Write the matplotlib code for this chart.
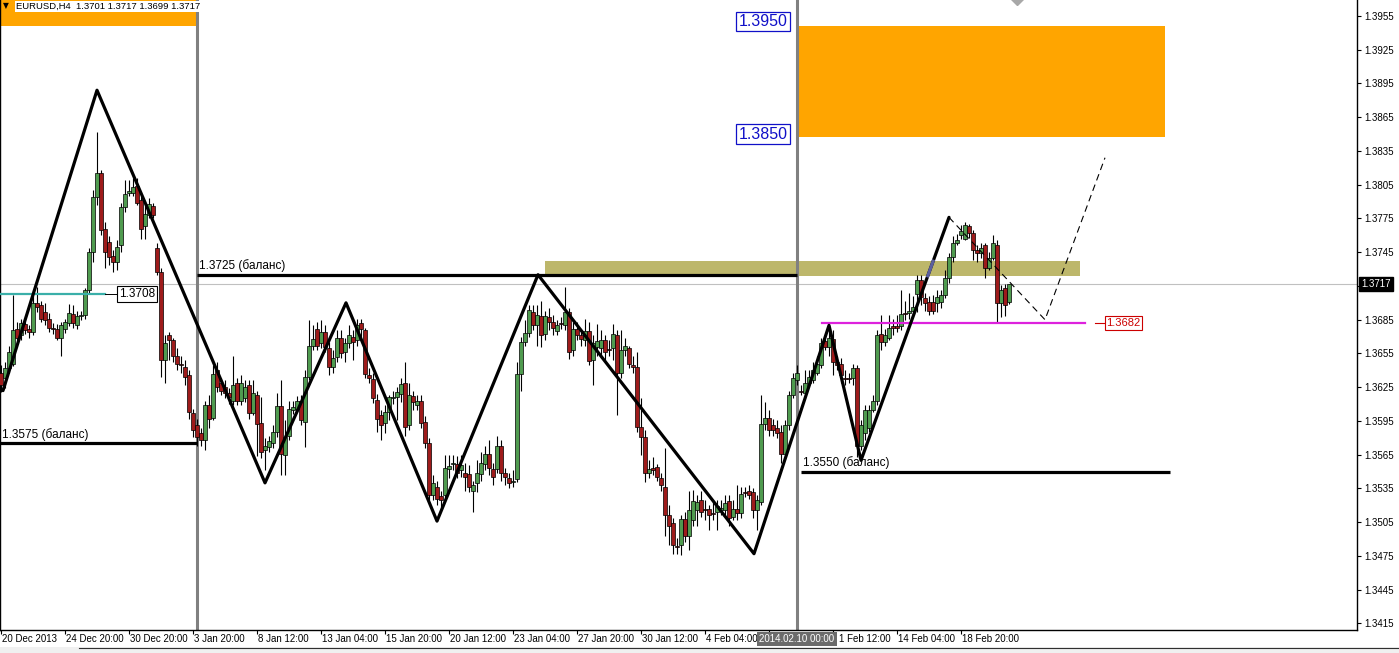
import matplotlib.pyplot as plt
import numpy as np
from matplotlib.patches import Rectangle
from matplotlib.lines import Line2D
from matplotlib.ticker import FuncFormatter

plt.rcParams['font.family'] = ['Liberation Sans', 'DejaVu Sans']

# EURUSD H4 candles, bar 0 = 20 Dec 2013 00:00
opens = [
    1.3638, 1.3633, 1.3642, 1.3646, 1.3677, 1.3671, 1.3681, 1.3677, 1.3674, 1.3700,
    1.3698, 1.3692, 1.3686, 1.3678, 1.3677, 1.3669, 1.3677, 1.3682, 1.3690, 1.3680,
    1.3688, 1.3689, 1.3711, 1.3745, 1.3794, 1.3815, 1.3766, 1.3754, 1.3742, 1.3736,
    1.3751, 1.3785, 1.3798, 1.3798, 1.3804, 1.3791, 1.3768, 1.3778, 1.3786, 1.3749,
    1.3727, 1.3649, 1.3671, 1.3667, 1.3653, 1.3646, 1.3643, 1.3636, 1.3602, 1.3591,
    1.3584, 1.3578, 1.3609, 1.3598, 1.3640, 1.3629, 1.3625, 1.3620, 1.3613, 1.3629,
    1.3613, 1.3615, 1.3627, 1.3602, 1.3618, 1.3593, 1.3569, 1.3572, 1.3575, 1.3585,
    1.3608, 1.3565, 1.3582, 1.3605, 1.3606, 1.3613, 1.3594, 1.3634, 1.3662, 1.3677,
    1.3664, 1.3674, 1.3660, 1.3643, 1.3652, 1.3669, 1.3656, 1.3664, 1.3670, 1.3667,
    1.3682, 1.3676, 1.3636, 1.3632, 1.3614, 1.3600, 1.3593, 1.3603, 1.3615, 1.3616,
    1.3619, 1.3629, 1.3591, 1.3617, 1.3609, 1.3613, 1.3594, 1.3575, 1.3529, 1.3536,
    1.3528, 1.3529, 1.3552, 1.3557, 1.3557, 1.3551, 1.3549, 1.3548, 1.3533, 1.3540,
    1.3548, 1.3557, 1.3566, 1.3552, 1.3552, 1.3573, 1.3549, 1.3544, 1.3541, 1.3543,
    1.3637, 1.3665, 1.3673, 1.3692, 1.3680, 1.3688, 1.3672, 1.3687, 1.3683, 1.3675,
    1.3682, 1.3680, 1.3692, 1.3658, 1.3677, 1.3671, 1.3667, 1.3675, 1.3649, 1.3661,
    1.3660, 1.3667, 1.3659, 1.3660, 1.3671, 1.3638, 1.3658, 1.3660, 1.3645, 1.3643,
    1.3590, 1.3581, 1.3549, 1.3553, 1.3554, 1.3544, 1.3536, 1.3511, 1.3504, 1.3484,
    1.3485, 1.3508, 1.3493, 1.3507, 1.3516, 1.3525, 1.3517, 1.3517, 1.3513, 1.3514,
    1.3516, 1.3516, 1.3524, 1.3510, 1.3517, 1.3513, 1.3532, 1.3533, 1.3532, 1.3516,
    1.3523, 1.3592, 1.3598, 1.3591, 1.3589, 1.3585, 1.3566, 1.3591, 1.3618, 1.3631,
    1.3622, 1.3620, 1.3629, 1.3631, 1.3638, 1.3645, 1.3666, 1.3661, 1.3668, 1.3647,
    1.3646, 1.3633, 1.3633, 1.3633, 1.3642, 1.3573, 1.3584, 1.3589, 1.3605, 1.3613,
    1.3672, 1.3665, 1.3669, 1.3679, 1.3679, 1.3679, 1.3691, 1.3691, 1.3693, 1.3708,
    1.3720, 1.3704, 1.3701, 1.3701, 1.3700, 1.3701, 1.3707, 1.3722, 1.3741, 1.3753,
    1.3760, 1.3757, 1.3768, 1.3762, 1.3747, 1.3744, 1.3751, 1.3731, 1.3740, 1.3751,
    1.3700, 1.3713, 1.3701,
]
highs = [
    1.3645, 1.3647, 1.3662, 1.3707, 1.3683, 1.3686, 1.3686, 1.3680, 1.3711, 1.3714,
    1.3702, 1.3700, 1.3691, 1.3682, 1.3681, 1.3683, 1.3686, 1.3699, 1.3698, 1.3693,
    1.3693, 1.3713, 1.3749, 1.3800, 1.3852, 1.3818, 1.3772, 1.3759, 1.3747, 1.3756,
    1.3789, 1.3809, 1.3809, 1.3811, 1.3811, 1.3796, 1.3787, 1.3793, 1.3789, 1.3753,
    1.3731, 1.3671, 1.3674, 1.3669, 1.3660, 1.3653, 1.3649, 1.3640, 1.3606, 1.3597,
    1.3589, 1.3613, 1.3618, 1.3645, 1.3647, 1.3633, 1.3631, 1.3624, 1.3653, 1.3633,
    1.3636, 1.3631, 1.3631, 1.3631, 1.3622, 1.3616, 1.3580, 1.3582, 1.3591, 1.3620,
    1.3631, 1.3596, 1.3613, 1.3613, 1.3617, 1.3618, 1.3640, 1.3685, 1.3680, 1.3683,
    1.3685, 1.3680, 1.3665, 1.3658, 1.3676, 1.3676, 1.3669, 1.3680, 1.3676, 1.3686,
    1.3686, 1.3678, 1.3642, 1.3638, 1.3619, 1.3605, 1.3609, 1.3618, 1.3622, 1.3625,
    1.3633, 1.3647, 1.3629, 1.3622, 1.3618, 1.3618, 1.3599, 1.3580, 1.3547, 1.3542,
    1.3533, 1.3565, 1.3565, 1.3565, 1.3564, 1.3565, 1.3558, 1.3556, 1.3542, 1.3560,
    1.3567, 1.3573, 1.3578, 1.3558, 1.3582, 1.3578, 1.3553, 1.3549, 1.3551, 1.3647,
    1.3670, 1.3685, 1.3698, 1.3698, 1.3698, 1.3702, 1.3693, 1.3695, 1.3689, 1.3685,
    1.3687, 1.3714, 1.3695, 1.3683, 1.3683, 1.3676, 1.3686, 1.3683, 1.3671, 1.3681,
    1.3676, 1.3671, 1.3667, 1.3681, 1.3676, 1.3676, 1.3669, 1.3662, 1.3653, 1.3656,
    1.3615, 1.3587, 1.3560, 1.3563, 1.3557, 1.3549, 1.3571, 1.3520, 1.3509, 1.3491,
    1.3511, 1.3514, 1.3533, 1.3534, 1.3529, 1.3533, 1.3525, 1.3520, 1.3525, 1.3525,
    1.3525, 1.3529, 1.3529, 1.3525, 1.3538, 1.3536, 1.3536, 1.3538, 1.3535, 1.3529,
    1.3618, 1.3612, 1.3605, 1.3597, 1.3596, 1.3591, 1.3596, 1.3622, 1.3638, 1.3645,
    1.3627, 1.3640, 1.3640, 1.3647, 1.3653, 1.3669, 1.3671, 1.3680, 1.3676, 1.3653,
    1.3651, 1.3640, 1.3638, 1.3646, 1.3645, 1.3596, 1.3609, 1.3609, 1.3618, 1.3676,
    1.3689, 1.3677, 1.3689, 1.3686, 1.3689, 1.3711, 1.3702, 1.3709, 1.3706, 1.3725,
    1.3725, 1.3709, 1.3706, 1.3707, 1.3711, 1.3711, 1.3729, 1.3744, 1.3759, 1.3761,
    1.3769, 1.3772, 1.3770, 1.3765, 1.3751, 1.3753, 1.3753, 1.3745, 1.3760, 1.3756,
    1.3716, 1.3717, 1.3717,
]
lows = [
    1.3621, 1.3624, 1.3638, 1.3644, 1.3665, 1.3667, 1.3672, 1.3669, 1.3671, 1.3692,
    1.3683, 1.3680, 1.3674, 1.3672, 1.3667, 1.3653, 1.3673, 1.3679, 1.3678, 1.3677,
    1.3685, 1.3686, 1.3709, 1.3736, 1.3787, 1.3760, 1.3731, 1.3734, 1.3727, 1.3729,
    1.3745, 1.3781, 1.3795, 1.3795, 1.3787, 1.3757, 1.3757, 1.3775, 1.3775, 1.3725,
    1.3634, 1.3629, 1.3649, 1.3647, 1.3640, 1.3638, 1.3627, 1.3597, 1.3581, 1.3573,
    1.3573, 1.3569, 1.3589, 1.3596, 1.3621, 1.3618, 1.3615, 1.3610, 1.3609, 1.3609,
    1.3609, 1.3612, 1.3597, 1.3600, 1.3564, 1.3562, 1.3551, 1.3567, 1.3571, 1.3581,
    1.3547, 1.3547, 1.3578, 1.3601, 1.3603, 1.3591, 1.3572, 1.3631, 1.3658, 1.3658,
    1.3660, 1.3656, 1.3636, 1.3638, 1.3647, 1.3651, 1.3647, 1.3660, 1.3649, 1.3662,
    1.3667, 1.3633, 1.3629, 1.3611, 1.3585, 1.3578, 1.3584, 1.3596, 1.3610, 1.3596,
    1.3612, 1.3582, 1.3587, 1.3605, 1.3605, 1.3589, 1.3571, 1.3525, 1.3525, 1.3520,
    1.3516, 1.3525, 1.3544, 1.3551, 1.3544, 1.3545, 1.3533, 1.3532, 1.3514, 1.3532,
    1.3542, 1.3551, 1.3547, 1.3538, 1.3549, 1.3542, 1.3538, 1.3535, 1.3536, 1.3541,
    1.3622, 1.3662, 1.3670, 1.3676, 1.3662, 1.3661, 1.3667, 1.3676, 1.3671, 1.3671,
    1.3677, 1.3676, 1.3650, 1.3653, 1.3667, 1.3662, 1.3662, 1.3645, 1.3627, 1.3653,
    1.3651, 1.3647, 1.3653, 1.3649, 1.3600, 1.3633, 1.3653, 1.3642, 1.3638, 1.3585,
    1.3565, 1.3541, 1.3544, 1.3547, 1.3542, 1.3533, 1.3493, 1.3485, 1.3477, 1.3477,
    1.3476, 1.3487, 1.3480, 1.3502, 1.3502, 1.3510, 1.3507, 1.3498, 1.3507, 1.3498,
    1.3511, 1.3511, 1.3502, 1.3507, 1.3507, 1.3509, 1.3527, 1.3526, 1.3509, 1.3498,
    1.3520, 1.3587, 1.3582, 1.3582, 1.3580, 1.3558, 1.3562, 1.3587, 1.3615, 1.3627,
    1.3618, 1.3615, 1.3627, 1.3629, 1.3636, 1.3642, 1.3658, 1.3653, 1.3636, 1.3640,
    1.3629, 1.3627, 1.3629, 1.3627, 1.3563, 1.3569, 1.3578, 1.3585, 1.3603, 1.3609,
    1.3658, 1.3662, 1.3667, 1.3671, 1.3674, 1.3676, 1.3685, 1.3686, 1.3689, 1.3692,
    1.3698, 1.3693, 1.3689, 1.3690, 1.3692, 1.3695, 1.3704, 1.3718, 1.3736, 1.3751,
    1.3757, 1.3756, 1.3758, 1.3738, 1.3736, 1.3740, 1.3722, 1.3729, 1.3738, 1.3683,
    1.3687, 1.3688, 1.3699,
]
closes = [
    1.3627, 1.3642, 1.3656, 1.3676, 1.3669, 1.3682, 1.3676, 1.3674, 1.3700, 1.3696,
    1.3686, 1.3685, 1.3678, 1.3677, 1.3669, 1.3680, 1.3683, 1.3691, 1.3682, 1.3688,
    1.3689, 1.3711, 1.3745, 1.3794, 1.3815, 1.3765, 1.3745, 1.3741, 1.3736, 1.3750,
    1.3785, 1.3797, 1.3799, 1.3803, 1.3789, 1.3766, 1.3779, 1.3788, 1.3778, 1.3727,
    1.3649, 1.3664, 1.3667, 1.3653, 1.3646, 1.3645, 1.3634, 1.3603, 1.3587, 1.3581,
    1.3578, 1.3609, 1.3597, 1.3637, 1.3625, 1.3622, 1.3620, 1.3616, 1.3627, 1.3613,
    1.3629, 1.3625, 1.3602, 1.3620, 1.3592, 1.3567, 1.3573, 1.3577, 1.3585, 1.3608,
    1.3566, 1.3581, 1.3606, 1.3607, 1.3613, 1.3596, 1.3634, 1.3662, 1.3668, 1.3662,
    1.3674, 1.3661, 1.3643, 1.3651, 1.3669, 1.3655, 1.3664, 1.3671, 1.3665, 1.3680,
    1.3677, 1.3637, 1.3633, 1.3615, 1.3597, 1.3591, 1.3603, 1.3616, 1.3616, 1.3621,
    1.3628, 1.3590, 1.3618, 1.3612, 1.3613, 1.3593, 1.3575, 1.3529, 1.3540, 1.3526,
    1.3525, 1.3553, 1.3555, 1.3558, 1.3549, 1.3556, 1.3545, 1.3536, 1.3538, 1.3549,
    1.3558, 1.3566, 1.3553, 1.3545, 1.3573, 1.3549, 1.3545, 1.3540, 1.3542, 1.3637,
    1.3665, 1.3673, 1.3694, 1.3680, 1.3689, 1.3671, 1.3688, 1.3683, 1.3678, 1.3680,
    1.3681, 1.3692, 1.3656, 1.3677, 1.3671, 1.3668, 1.3675, 1.3648, 1.3664, 1.3666,
    1.3667, 1.3656, 1.3658, 1.3672, 1.3638, 1.3658, 1.3662, 1.3646, 1.3643, 1.3590,
    1.3581, 1.3549, 1.3552, 1.3551, 1.3545, 1.3538, 1.3511, 1.3502, 1.3485, 1.3483,
    1.3508, 1.3493, 1.3516, 1.3524, 1.3523, 1.3514, 1.3516, 1.3511, 1.3512, 1.3519,
    1.3518, 1.3522, 1.3509, 1.3517, 1.3513, 1.3530, 1.3531, 1.3529, 1.3516, 1.3525,
    1.3592, 1.3598, 1.3587, 1.3587, 1.3584, 1.3566, 1.3591, 1.3618, 1.3633, 1.3638,
    1.3621, 1.3629, 1.3634, 1.3640, 1.3646, 1.3664, 1.3661, 1.3669, 1.3647, 1.3645,
    1.3636, 1.3632, 1.3632, 1.3642, 1.3573, 1.3591, 1.3605, 1.3605, 1.3613, 1.3671,
    1.3665, 1.3671, 1.3678, 1.3678, 1.3678, 1.3690, 1.3690, 1.3693, 1.3696, 1.3720,
    1.3705, 1.3700, 1.3693, 1.3693, 1.3705, 1.3707, 1.3722, 1.3741, 1.3753, 1.3756,
    1.3764, 1.3769, 1.3762, 1.3747, 1.3744, 1.3749, 1.3731, 1.3740, 1.3753, 1.3700,
    1.3711, 1.3698, 1.3717,
]

# 6 Feb 20:00 sits under the date marker, 11 Feb 12:00 shows only as "1 Feb 12:00"
time_labels = ['20 Dec 2013', '24 Dec 20:00', '30 Dec 20:00', '3 Jan 20:00', '8 Jan 12:00',
               '13 Jan 04:00', '15 Jan 20:00', '20 Jan 12:00', '23 Jan 04:00', '27 Jan 20:00',
               '30 Jan 12:00', '4 Feb 04:00', '', '1 Feb 12:00', '14 Feb 04:00',
               '18 Feb 20:00']
time_label_bars = [0, 16, 32, 48, 64, 80, 96, 112, 128, 144, 160, 176, 192, 208, 224, 240]

# hand drawn zigzag (bar index, price)
zigzag_bars = [0.5, 24, 66, 86.25, 109, 134.25, 188.25, 207, 215, 237]
zigzag_prices = [1.3622, 1.3889, 1.3540, 1.3700, 1.3506, 1.3725, 1.3477, 1.3680, 1.3560, 1.3776]

# dashed forecast
forecast_bars = [237, 261, 276]
forecast_prices = [1.3776, 1.3685, 1.3829]

balance_prices = [1.3575, 1.3725, 1.3550]
balance_texts = ['1.3575 (баланс)', '1.3725 (баланс)', '1.3550 (баланс)']

target_prices = [1.3950, 1.3850]
target_zone = (1.3847, 1.3946)
resist_zone = (1.3724, 1.3737)
teal_level = 1.3708
magenta_level = 1.3682
last_price = 1.3717
title = 'EURUSD,H4  1.3701 1.3717 1.3699 1.3717'
marker_date = '2014.02.10 00:00'


def price_label(v, pos):
    # the grid label under the last price box is not drawn
    if abs(v - 1.3715) < 1e-6:
        return ''
    return '%.4f' % v


def main():
    fig = plt.figure(figsize=(13.99, 6.53), dpi=100)
    ax = fig.add_axes([0, 23 / 653, 1357 / 1399, 630 / 653])

    # zones
    ax.add_patch(Rectangle((-0.25, target_zone[1]), 49.25, 0.004, color='#FFA500', lw=0, zorder=1))
    ax.add_patch(Rectangle((199, target_zone[0]), 92, target_zone[1] - target_zone[0],
                           color='#FFA500', lw=0, zorder=1))
    ax.add_patch(Rectangle((136, resist_zone[0]), 133.75, resist_zone[1] - resist_zone[0],
                           color='#BDB76B', lw=0, zorder=1))

    ax.axhline(last_price, color='#C0C0C0', lw=0.8, zorder=1.5)
    ax.axvline(49, color='#808080', lw=2.2, zorder=2)
    ax.axvline(199, color='#808080', lw=2.2, zorder=2)

    # candles
    x = np.arange(len(closes))
    o = np.array(opens)
    c = np.array(closes)
    up = c >= o
    body_low = np.minimum(o, c)
    body_h = np.maximum(np.abs(c - o), 0.00004)
    ax.vlines(x, lows, highs, color='black', lw=0.8, zorder=3)
    ax.bar(x[up], body_h[up], width=0.78, bottom=body_low[up], color='#4f9b4f',
           edgecolor='black', lw=0.5, zorder=4)
    ax.bar(x[~up], body_h[~up], width=0.78, bottom=body_low[~up], color='#9e1b1b',
           edgecolor='black', lw=0.5, zorder=4)

    # balance levels
    spans = [(-0.25, 49), (49, 199), (200, 292.25)]
    for price, text, (a, b) in zip(balance_prices, balance_texts, spans):
        ax.plot([a, b], [price, price], color='black', lw=2.3, zorder=5, solid_capstyle='butt')
        ax.text(a + 0.5, price + 0.0008, text, fontsize=8.5, va='center', ha='left', zorder=6)

    # teal level with label
    ax.plot([-0.25, 26], [teal_level] * 2, color='#3AAFA9', lw=1.6, zorder=5)
    ax.plot([26, 29.3], [teal_level] * 2, color='black', lw=0.7, zorder=5)
    ax.text(29.5, teal_level, '%.4f' % teal_level, fontsize=8.5, va='center', ha='left', zorder=6,
            bbox=dict(boxstyle='square,pad=0.15', fc='white', ec='black', lw=0.8))

    # magenta level with label
    ax.plot([205.25, 271], [magenta_level] * 2, color='#DD22DD', lw=1.6, zorder=5)
    ax.plot([273.5, 276], [magenta_level] * 2, color='#CC0000', lw=0.8, zorder=5)
    ax.text(276.3, magenta_level, '%.4f' % magenta_level, fontsize=8, va='center', ha='left',
            color='#CC0000', zorder=6,
            bbox=dict(boxstyle='square,pad=0.15', fc='white', ec='#CC0000', lw=0.8))

    # zigzag and forecast
    ax.plot(zigzag_bars, zigzag_prices, color='black', lw=2.3, zorder=5, solid_capstyle='round')
    p0, p1 = zigzag_prices[8], zigzag_prices[9]
    b0, b1 = zigzag_bars[8], zigzag_bars[9]
    t = [(p - p0) / (p1 - p0) for p in resist_zone]
    ax.plot([b0 + k * (b1 - b0) for k in t], list(resist_zone), color='#5b5f9e', lw=2.3, zorder=5.5)
    ax.plot(forecast_bars, forecast_prices, color='black', lw=0.8, dashes=(6, 4), zorder=5)

    # target labels
    for price in target_prices:
        ax.text(196.6, price, '%.4f' % price, fontsize=11.5, color='#1010C8', va='center', ha='right',
                zorder=6, bbox=dict(boxstyle='square,pad=0.15', fc='white', ec='#1010C8', lw=0.9))

    ax.plot(254, 1.39712, marker='D', ms=7, color='#A8A8A8', zorder=6)

    ax.set_xlim(-0.25, 339)
    ax.set_ylim(1.34092, 1.39692)

    # axes styling
    for side in ['left', 'right', 'bottom']:
        ax.spines[side].set_color('black')
        ax.spines[side].set_linewidth(1)
    ax.spines['top'].set_visible(False)

    ax.yaxis.tick_right()
    ax.set_yticks(np.round(np.arange(1.3415, 1.3960, 0.003), 4))
    ax.yaxis.set_major_formatter(FuncFormatter(price_label))
    ax.tick_params(axis='y', direction='out', length=3, width=0.8, pad=2, labelsize=7)

    # time axis: ticks from the axis, labels written just right of each tick
    ax.set_xticks(time_label_bars)
    ax.set_xticklabels([])
    ax.tick_params(axis='x', direction='out', length=3, width=0.8)
    xt = ax.get_xaxis_transform()
    for bar, label in zip(time_label_bars, time_labels):
        nudge = 1.5 if label == '1 Feb 12:00' else 0.3
        ax.text(bar + nudge, -0.0143, label, transform=xt, ha='left', va='center',
                fontsize=7, clip_on=False)

    ax.text(1.003, last_price, '%.4f' % last_price, transform=ax.get_yaxis_transform(),
            ha='left', va='center', color='white', fontsize=7, clip_on=False, zorder=10,
            bbox=dict(boxstyle='square,pad=0.2', fc='black', ec='black'))

    ax.text(199, -0.0143, marker_date, transform=xt, ha='center', va='center',
            color='white', fontsize=7, clip_on=False, zorder=10,
            bbox=dict(boxstyle='square,pad=0.2', fc='#6b6b6b', ec='none'))

    # header
    fig.text(3 / 1399, 1 - 6 / 653, '▼', fontsize=5.5, va='center', ha='left', family='DejaVu Sans')
    fig.text(16 / 1399, 1 - 6.5 / 653, title, fontsize=6.8, va='center', ha='left',
             bbox=dict(boxstyle='square,pad=0.12', fc='white', ec='none'))

    # bottom strip
    fig.patches.append(Rectangle((0, 0), 1, 6 / 653, transform=fig.transFigure,
                                 fc='#f0f0f0', ec='none'))
    fig.lines.append(Line2D([79 / 1399, 1], [5.5 / 653] * 2, transform=fig.transFigure,
                            color='#303030', lw=0.8))

    fig.savefig('out.png', dpi=100, facecolor='white')


if __name__ == '__main__':
    main()
